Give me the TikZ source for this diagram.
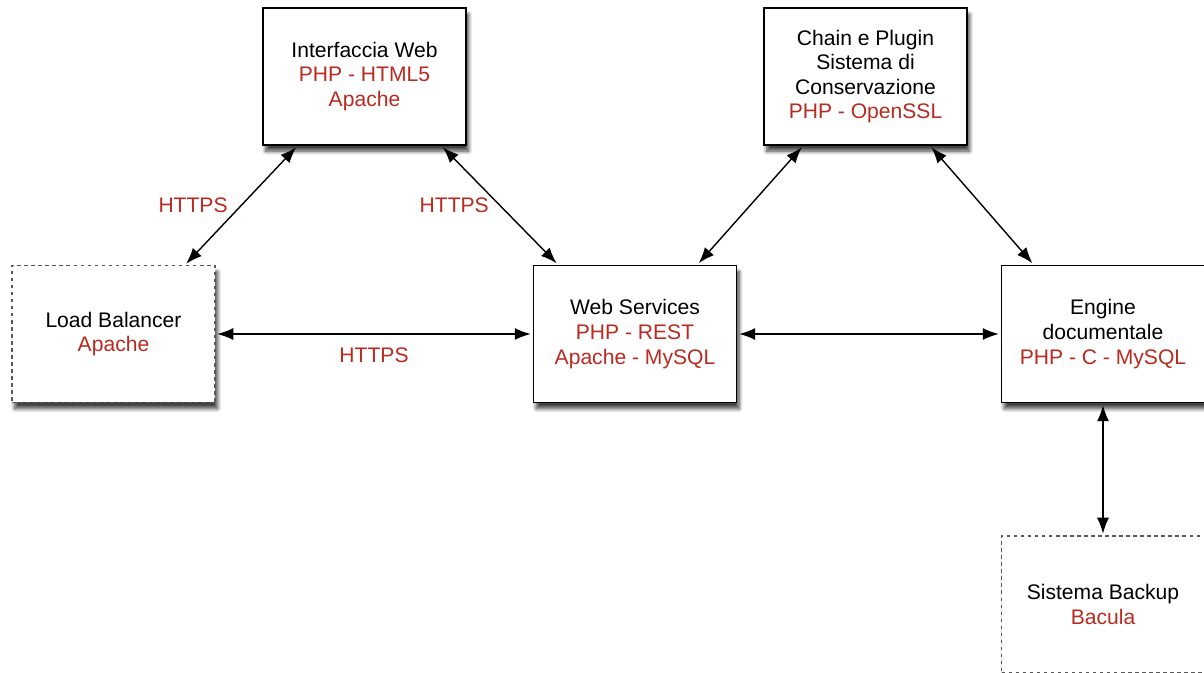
\documentclass[tikz,border=0pt]{standalone}
\usepackage{fontspec}
\setmainfont{Liberation Sans}
\usepackage{xcolor}
\usepackage{tikz}
\usetikzlibrary{arrows.meta, shadows.blur}

\definecolor{techred}{RGB}{185,42,32}

\tikzset{
	box/.style={draw=black, line width=1.1pt, fill=white,
		minimum width=4.06cm, minimum height=2.74cm, align=center,
		font=\fontsize{12}{14}\selectfont,
		blur shadow={shadow xshift=1.5pt, shadow yshift=-3.5pt, shadow blur steps=8, shadow opacity=75}},
	extbox/.style={box, draw=black!65, line width=0.6pt, dash pattern=on 2pt off 2pt},
	link/.style={{Latex[length=0.32cm, width=0.24cm]}-{Latex[length=0.32cm, width=0.24cm]}, line width=0.8pt, shorten <=1pt, shorten >=1pt},
	proto/.style={text=techred, font=\fontsize{12}{14}\selectfont}
}

\newcommand{\tech}[1]{\textcolor{techred}{#1}}

\begin{document}
\begin{tikzpicture}[x=0.02cm, y=-0.02cm]
				\useasboundingbox (0,0) rectangle (1204,673);

				% boxes
				\node[box] (iw) at (364.5,76.5) {Interfaccia Web\\\tech{PHP - HTML5}\\\tech{Apache}};
				\node[box] (cp) at (865.5,76.5) {Chain e Plugin\\Sistema di\\Conservazione\\\tech{PHP - OpenSSL}};
				\node[extbox] (lb) at (113.5,334) {Load Balancer\\\tech{Apache}};
				\node[box] (ws) at (635,334) {Web Services\\\tech{PHP - REST}\\\tech{Apache - MySQL}};
				\node[box] (en) at (1103,334) {Engine\\documentale\\\tech{PHP - C - MySQL}};
				\node[extbox] (bk) at (1103,604.5) {Sistema Backup\\\tech{Bacula}};

				% links
				\draw[link] (lb.44) -- node[proto, midway, left=4pt] {HTTPS} (iw.226);
				\draw[link] (iw.318) -- node[proto, midway, left=2.5pt] {HTTPS} (ws.138);
				\draw[link] (ws.48) -- (cp.228);
				\draw[link] (cp.313) -- (en.135);
				\draw[link] (lb.east) -- node[proto, midway, below=4pt] {HTTPS} (ws.west);
				\draw[link] (ws.east) -- (en.west);
				\draw[link] (en.south) -- (bk.north);
			\end{tikzpicture}
\end{document}
